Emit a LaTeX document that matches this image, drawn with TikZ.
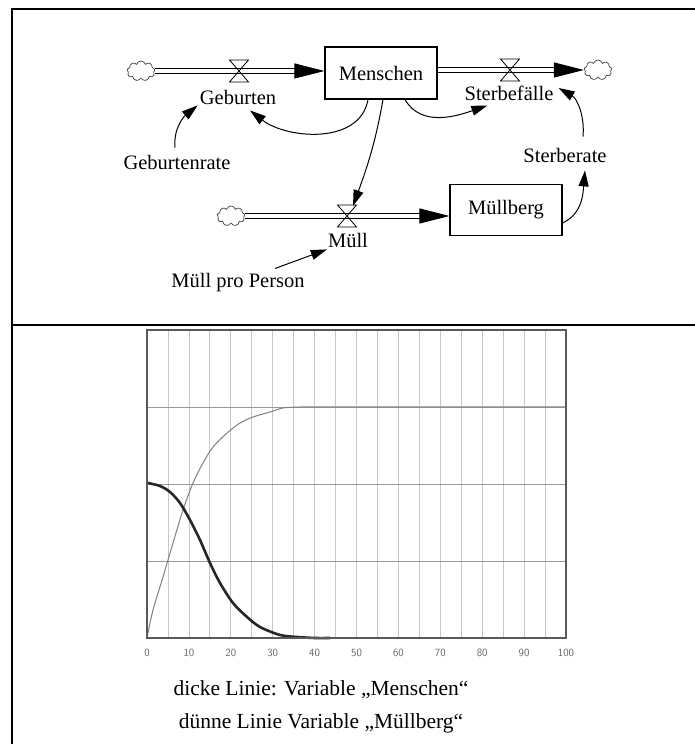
\documentclass[tikz,border=0pt]{standalone}
\usepackage{fontspec}
\setmainfont{Liberation Serif}
\usetikzlibrary{arrows.meta,shapes.symbols,calc}
\tikzset{
  lbl/.style={inner sep=0pt, font=\fontsize{20.5}{22}\selectfont},
  stock/.style={draw, line width=1.1pt, minimum width=112pt, minimum height=52pt, inner sep=0pt, font=\fontsize{20.5}{22}\selectfont},
  src/.style={cloud, cloud puffs=9, cloud ignores aspect, draw=black!75, line width=0.7pt, minimum width=28pt, minimum height=20pt, inner sep=0pt},
  pipe/.style={double, double distance=3.5pt, line width=1pt, -{Triangle[length=30pt,width=15pt]}},
  infl/.style={line width=1pt, -{Triangle[length=16pt,width=10pt]}},
  frameline/.style={line width=2.2pt},
  gridv/.style={line width=0.8pt, draw=black!22},
  gridh/.style={line width=0.9pt, draw=black!40},
  plotframe/.style={line width=2pt, draw=black!65},
  thinplot/.style={line width=1pt, draw=black!50},
  thickplot/.style={line width=2.6pt, draw=black!85},
  ticklbl/.style={inner sep=0pt, font=\sffamily\fontsize{11}{11}\selectfont, text=black!60},
  captext/.style={inner sep=0pt, font=\fontsize{21.5}{23}\selectfont},
  valve/.pic={\draw[line width=0.8pt] (-9.5,11) -- (9.5,11) -- (0,0) -- cycle (-9.5,-11) -- (9.5,-11) -- (0,0) -- cycle;}
}
\begin{document}
\begin{tikzpicture}[x=1pt,y=1pt]
\useasboundingbox (0,0) rectangle (694,744);
% frame
\draw[frameline] (12,-2) -- (12,735) -- (697,735);
\draw[frameline] (12,419) -- (697,419);

% stock-flow diagram
\node[stock] (m) at (381,671) {Menschen};
\node[stock, minimum height=51pt] (m2) at (506,534) {Müllberg};
\node[src] (c1) at (141,673) {};
\node[src] (c2) at (598,674) {};
\node[src] (c3) at (231,528) {};

\draw[pipe] (c1.east) -- (c1.east -| m.west);
\draw[pipe] (c2.west -| m.east) -- (c2.west);
\draw[pipe] (c3.east) -- (c3.east -| m2.west);

\coordinate (v1) at (239,673);
\coordinate (v2) at (510,674);
\coordinate (v3) at (347,528);
\pic at (v1) {valve};
\pic at (v2) {valve};
\pic at (v3) {valve};

\node[lbl] (gb) at (238,647) {Geburten};
\node[lbl] (gr) at (177,582) {Geburtenrate};
\node[lbl] (sb) at (509,651) {Sterbefälle};
\node[lbl] (sr) at (565,589) {Sterberate};
\node[lbl] (ml) at (348,504) {Müll};
\node[lbl] (mpp) at (238,461) {Müll pro Person};

\draw[infl] ($(gr.north)+(-2,7)$) to[out=95,in=219] ($(gb.south west)+(-2,-1)$);
\draw[infl] ($(m.south)+(-13,0)$) to[out=-100,in=-38] ($(gb.south)+(12,-6)$);
\draw[infl] ($(m.south)+(24,0)$) to[out=-60,in=199] ($(sb.south west)+(23,-5)$);
\draw[infl] ($(m.south)+(2,0)$) to[out=-100,in=70] ($(v3)+(6,10)$);
\draw[infl] ($(sr.north)+(18,11)$) to[out=85,in=-30] ($(sb.east)+(5,5)$);
\draw[infl] ($(m2.east)+(0,-13)$) to[out=25,in=-95] ($(sr.south)+(20,-8)$);
\draw[infl] ($(mpp.north)+(37,5)$) -- ($(ml.south west)+(-1,-2)$);

% chart
\foreach \t in {5,10,...,95} \draw[gridv] ({147+4.19*\t},106) -- ({147+4.19*\t},414);
\foreach \v in {1,2,3} \draw[gridh] (147,{106+77*\v}) -- (566,{106+77*\v});
\draw[thinplot] plot[smooth] coordinates {(147,106) (153,134) (163,167) (173,201) (183,234) (193,261) (203,281) (213,297) (227,311) (240,321) (253,327) (270,332) (283,336) (300,337) (317,337)} -- (566,337);
\draw[thickplot] plot[smooth] coordinates {(148,261) (160,258) (170,252) (180,241) (190,224) (200,204) (210,181) (220,161) (233,141) (247,127) (260,117) (280,109) (297,107) (315,106) (330,106)};
\draw[plotframe] (147,106) rectangle (566,414);
\foreach \t in {0,10,...,100} \node[ticklbl] (tk\t) at ({147+4.19*\t},91) {\t};

\node[captext] (cap1) at (321,54) {dicke Linie: Variable „Menschen“};
\node[captext] (cap2) at (321,21) {dünne Linie Variable „Müllberg“};
\end{tikzpicture}
\end{document}
